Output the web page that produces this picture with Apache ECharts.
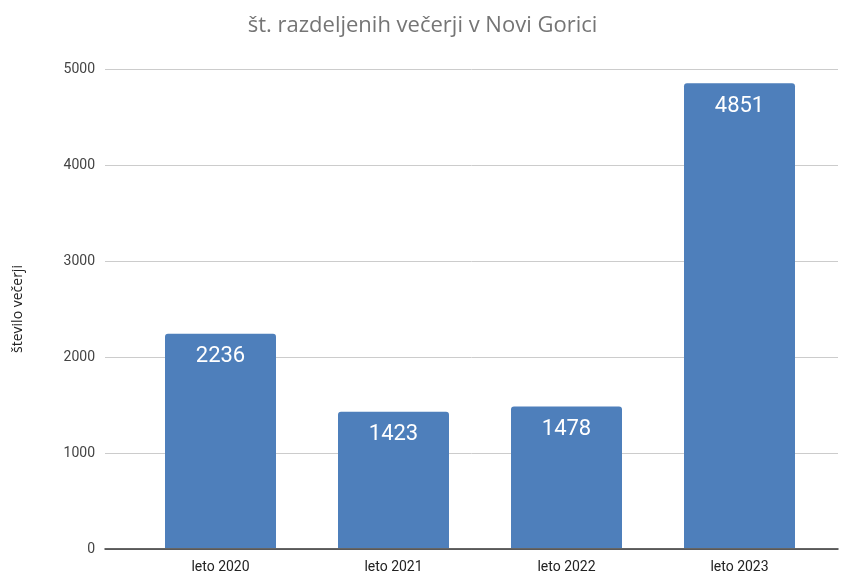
<!DOCTYPE html>
<html>
<head>
<meta charset="utf-8">
<title>št. razdeljenih večerji v Novi Gorici</title>
<script src="https://cdn.jsdelivr.net/npm/echarts@6/dist/echarts.min.js"></script>
<style>
  html, body { margin: 0; padding: 0; background: #fff; }
  #chart { width: 845px; height: 574px; }
</style>
</head>
<body>
<div id="chart"></div>
<script>
// podatki
const categories = ["leto 2020", "leto 2021", "leto 2022", "leto 2023"]
const dinners = [2236, 1423, 1478, 4851]
const yTicks = [0, 1000, 2000, 3000, 4000, 5000]

const chart = echarts.init(document.getElementById("chart"))
const font = "Roboto, 'Noto Sans', sans-serif"

const option = {
  animation: false,
  title: {
    text: "št. razdeljenih večerji v Novi Gorici",
    left: "center",
    top: 10,
    textStyle: { fontFamily: "'Open Sans', sans-serif", fontSize: 22, fontWeight: "normal", color: "#757575" }
  },
  // grid 0: gridlines + y labels, grid 1: bars (narrower category band)
  grid: [
    { left: 105, right: 7, top: 69, bottom: 25 },
    { left: 134, right: 19, top: 69, bottom: 25 }
  ],
  xAxis: [
    {
      gridIndex: 0, type: "value", min: 0, max: 1,
      axisLine: { show: true, lineStyle: { color: "#333", width: 1.5 } },
      axisTick: { show: false }, axisLabel: { show: false }, splitLine: { show: false }
    },
    {
      gridIndex: 1, type: "category", data: categories,
      axisLine: { show: false }, axisTick: { show: false },
      axisLabel: { color: "#222", fontSize: 14, fontFamily: font, margin: 12 }
    }
  ],
  yAxis: [
    {
      gridIndex: 0, type: "value", min: yTicks[0], max: yTicks[yTicks.length - 1], interval: 1000,
      name: "število večerji", nameLocation: "middle", nameGap: 80,
      nameTextStyle: { color: "#222", fontSize: 14, fontFamily: "'Open Sans', sans-serif" },
      axisLine: { show: false }, axisTick: { show: false },
      axisLabel: { color: "#444", fontSize: 14, fontFamily: font, margin: 10, formatter: v => String(v) },
      splitLine: { lineStyle: { color: "#cccccc", width: 1 } }
    },
    {
      gridIndex: 1, type: "value", min: 0, max: 5000, show: false, splitLine: { show: false }
    }
  ],
  series: [
    {
      type: "bar", xAxisIndex: 1, yAxisIndex: 1,
      data: dinners, barWidth: 111,
      itemStyle: { color: "#4e7fbb", borderRadius: [3, 3, 0, 0] },
      label: {
        show: true, position: "insideTop", distance: 12,
        color: "#fff", fontSize: 22, fontFamily: font
      }
    }
  ]
}
chart.setOption(option)
</script>
</body>
</html>
